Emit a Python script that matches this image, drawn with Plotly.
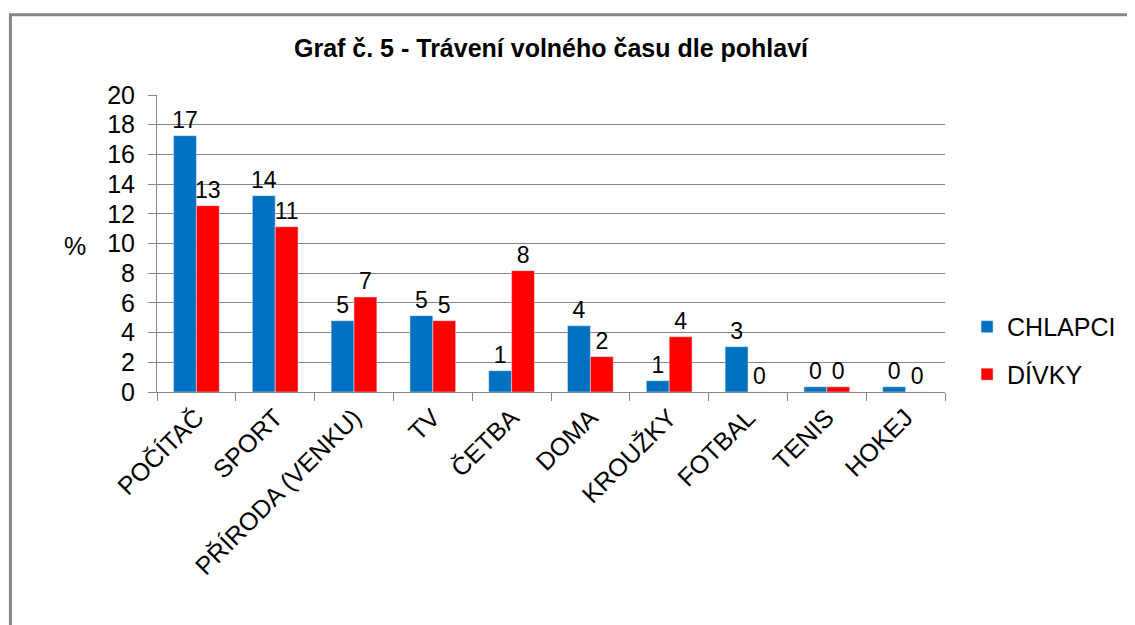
import plotly.graph_objects as go

categories = ["POČÍTAČ", "SPORT", "PŘÍRODA (VENKU)", "TV", "ČETBA", "DOMA",
              "KROUŽKY", "FOTBAL", "TENIS", "HOKEJ"]
chlapci = [17.26, 13.22, 4.8, 5.14, 1.43, 4.46, 0.76, 3.05, 0.35, 0.35]
divky = [12.55, 11.13, 6.4, 4.8, 8.17, 2.38, 3.72, 0.0, 0.35, 0.0]
chlapci_labels = ["17", "14", "5", "5", "1", "4", "1", "3", "0", "0"]
divky_labels = ["13", "11", "7", "5", "8", "2", "4", "0", "0", "0"]
y_ticks = list(range(0, 21, 2))

FONT = "Liberation Sans, Arial, sans-serif"

fig = go.Figure()
fig.add_trace(go.Bar(
    name="CHLAPCI", x=categories, y=chlapci, marker_color="#0070C0",
    legendgroup="a",
    text=chlapci_labels, textposition="outside", cliponaxis=False,
    constraintext="none",
    textfont=dict(size=23, color="black", family=FONT),
))
fig.add_trace(go.Bar(
    name="DÍVKY", x=categories, y=divky, marker_color="#FF0000",
    legendgroup="b",
    text=divky_labels, textposition="outside", cliponaxis=False,
    constraintext="none",
    textfont=dict(size=23, color="black", family=FONT),
))

fig.update_layout(
    width=1127, height=617,
    margin=dict(l=149, r=190, t=87, b=233),
    paper_bgcolor="white", plot_bgcolor="white",
    barmode="group", bargap=0.42, bargroupgap=0,
    font=dict(family=FONT, color="black"),
    title=dict(text="<b>Graf č. 5 - Trávení volného času dle pohlaví</b>",
               x=0.5, xanchor="center", xref="paper", y=0.935, yanchor="middle",
               font=dict(size=25, family=FONT, color="black")),
    legend=dict(x=1.028, y=0.14, xanchor="left", yanchor="middle",
                font=dict(size=25, family=FONT, color="black"),
                bgcolor="rgba(0,0,0,0)", itemwidth=30, tracegroupgap=12),
    showlegend=True,
)
fig.update_xaxes(
    type="category", tickangle=-45, tickfont=dict(size=25, family=FONT, color="black"),
    showline=True, linecolor="#868686", linewidth=1,
    ticks="outside", tickson="boundaries", ticklen=8, tickcolor="#868686",
    showgrid=False,
)
fig.update_yaxes(
    range=[0, 20], tickvals=y_ticks, tickfont=dict(size=25, family=FONT, color="black"),
    showgrid=True, gridcolor="#868686", gridwidth=1,
    showline=True, linecolor="#868686", linewidth=1,
    ticks="outside", ticklen=8, tickcolor="#868686", ticklabelstandoff=8,
    zeroline=False,
)
fig.add_annotation(text="%", xref="paper", yref="paper",
                   x=-0.12, y=0.49, showarrow=False,
                   font=dict(size=25, family=FONT, color="black"))
# outer chart frame
fig.add_shape(type="rect", xref="paper", yref="paper",
              x0=-0.186, x1=1.3, y0=-1.0, y1=1.27,
              line=dict(color="#868686", width=3), layer="below")

fig.write_html("out.html")
